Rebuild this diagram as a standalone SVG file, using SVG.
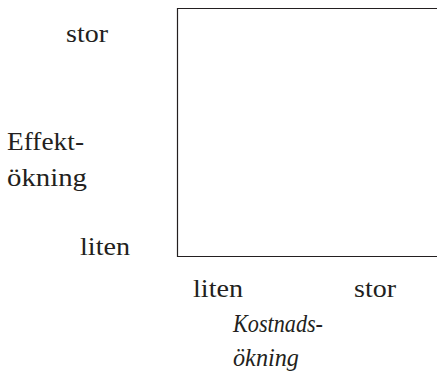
<svg xmlns="http://www.w3.org/2000/svg" width="437" height="376" viewBox="0 0 437 376">
<style>
text{font-family:'Liberation Serif','Times New Roman',serif;font-size:25px;fill:#231f20}
.it{font-style:italic}
</style>
<rect width="437" height="376" fill="#fff"/>
<g id="frame">
<path d="M440 8.5H177.5V256.5H440" fill="none" stroke="#231f20" stroke-width="1.2"/>
</g>
<g id="y-axis-labels">
<text x="66" y="42" textLength="42" lengthAdjust="spacingAndGlyphs">stor</text>
<text x="7" y="150" textLength="77" lengthAdjust="spacingAndGlyphs">Effekt-</text>
<text x="7" y="186" textLength="80" lengthAdjust="spacingAndGlyphs">ökning</text>
<text x="80" y="255" textLength="50" lengthAdjust="spacingAndGlyphs">liten</text>
</g>
<g id="x-axis-labels">
<text x="193" y="297" textLength="50" lengthAdjust="spacingAndGlyphs">liten</text>
<text x="354" y="297" textLength="42" lengthAdjust="spacingAndGlyphs">stor</text>
<text class="it" x="233" y="332" textLength="90" lengthAdjust="spacingAndGlyphs">Kostnads-</text>
<text class="it" x="233" y="366" textLength="66" lengthAdjust="spacingAndGlyphs">ökning</text>
</g>
</svg>
